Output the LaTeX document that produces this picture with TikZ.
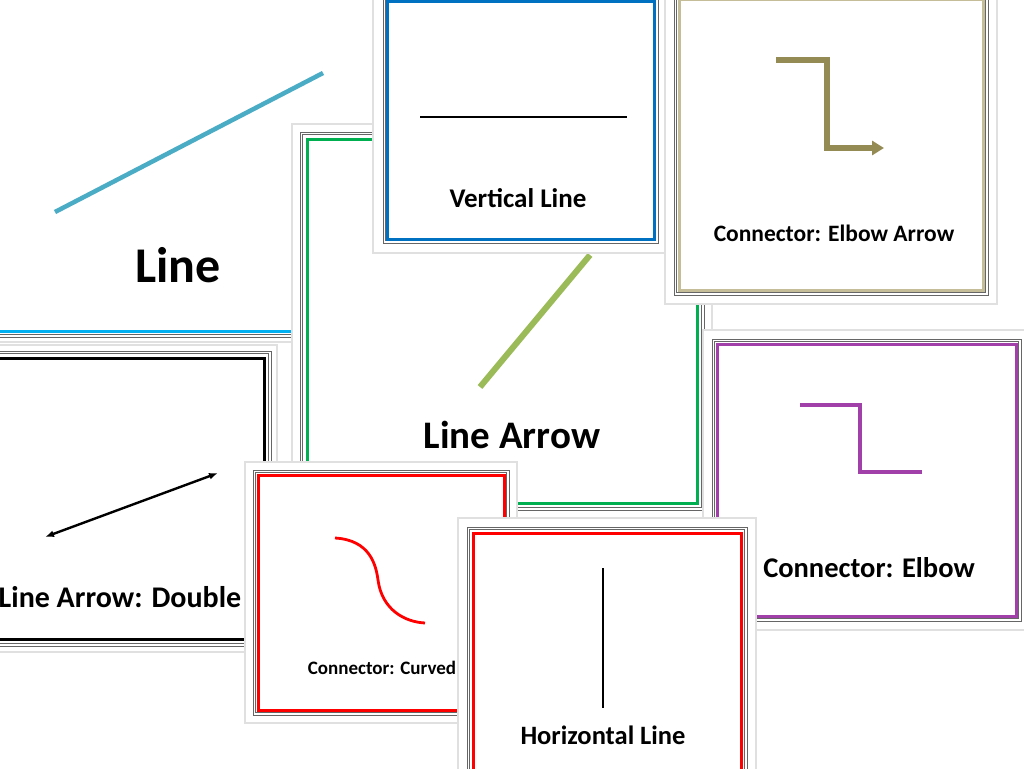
\documentclass[tikz,border=0pt]{standalone}
\usepackage{fontspec}
\setmainfont{Carlito}
\usetikzlibrary{arrows.meta}
\definecolor{lineblue}{HTML}{4BACC6}
\definecolor{skyblue}{HTML}{00B0F0}
\definecolor{fgreen}{HTML}{00B050}
\definecolor{lgreen}{HTML}{9BBB59}
\definecolor{vblue}{HTML}{0070C0}
\definecolor{khaki}{HTML}{C4BD97}
\definecolor{olive}{HTML}{948A54}
\definecolor{purp}{HTML}{A040A8}
\tikzset{
  shadowbox/.style={fill=white,draw=black!12,line width=2pt},
  grayframe/.style={draw=black!60,line width=0.9pt},
  lbl/.style={text=black,inner sep=0pt},
}
% \mycard{x1}{y1}{x2}{y2}{colour}{gray inset}{colour inset}
\newcommand{\mycard}[7]{%
  \path[shadowbox] (#1,#2) rectangle (#3,#4);
  \draw[grayframe] ({#1+#6},{#2+#6}) rectangle ({#3-#6},{#4-#6});
  \draw[grayframe] ({#1+#6+2.5},{#2+#6+2.5}) rectangle ({#3-#6-2.5},{#4-#6-2.5});
  \draw[#5,line width=3pt] ({#1+#7},{#2+#7}) rectangle ({#3-#7},{#4-#7});
}
\begin{document}
\begin{tikzpicture}[x=1pt,y=-1pt]
\useasboundingbox (0,0) rectangle (1024,768);
\clip (0,0) rectangle (1024,768);
% Line card
\mycard{-30}{-30}{400}{342}{skyblue}{5}{11}
\draw[lineblue,line width=4.5pt] (55,212) -- (323,73);
\node[lbl,font=\bfseries\fontsize{50}{50}\selectfont] (t1) at (178,265) {Line};
% Line Arrow card
\mycard{292}{124}{712}{518}{fgreen}{8}{15}
\draw[lgreen,line width=6pt] (480,387) -- (590,255);
\node[lbl,font=\bfseries\fontsize{39}{39}\selectfont] (t2) at (512,435) {Line Arrow};
% Double card
\mycard{-20}{345}{277}{652}{black}{6}{13}
\draw[line width=2.4pt,{Latex[length=9pt]}-{Latex[length=9pt]}] (45,537) -- (218,473);
\node[lbl,font=\bfseries\fontsize{30}{30}\selectfont] (t3) at (120,597) {Line Arrow: Double};
% Vertical Line card
\mycard{373}{-12}{668}{253}{vblue}{10}{14}
\draw[line width=2.4pt] (420,117) -- (627,117);
\node[lbl,font=\bfseries\fontsize{27}{27}\selectfont] (t4) at (518,198) {Vertical Line};
% Elbow arrow card
\mycard{665}{-14}{997}{304}{khaki}{9}{14}
\draw[olive,line width=5.5pt,-{Triangle[length=12pt,width=14pt]}] (776,60) -- (827,60) -- (827,148) -- (884,148);
\node[lbl,font=\bfseries\fontsize{23.5}{23.5}\selectfont] (t5) at (834,233) {Connector: Elbow Arrow};
% Elbow card
\mycard{703}{330}{1030}{630}{purp}{9}{14}
\draw[purp,line width=3.4pt] (800,405) -- (860,405) -- (860,472) -- (922,472);
\node[lbl,font=\bfseries\fontsize{28.5}{28.5}\selectfont] (t6) at (869,568) {Connector: Elbow};
% Curved card
\mycard{245}{462}{517}{723}{red}{8}{13}
\draw[red,line width=2.8pt] (335,538) .. controls (370,540) and (376,565) .. (378,580) .. controls (382,610) and (405,622) .. (425,623);
\node[lbl,font=\bfseries\fontsize{19}{19}\selectfont] (t7) at (382,668) {Connector: Curved};
% Horizontal line card
\mycard{458}{518}{756}{790}{red}{9}{15}
\draw[line width=2.4pt] (603,568) -- (603,708);
\node[lbl,font=\bfseries\fontsize{26.5}{26.5}\selectfont] (t8) at (603,735) {Horizontal Line};
\end{tikzpicture}
\end{document}
